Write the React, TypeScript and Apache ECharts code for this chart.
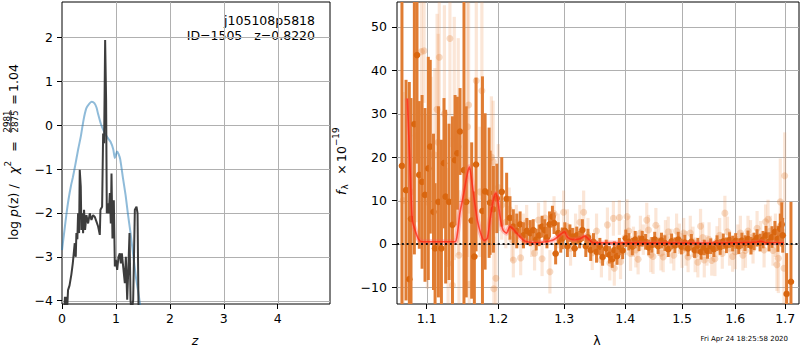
import React, { useEffect, useRef } from 'react';
import * as echarts from 'echarts';

const FONT = 'DejaVu Sans';

// ---------- tick labels ----------
const zTicks = [0, 1, 2, 3, 4];
const logpTicks = [-4, -3, -2, -1, 0, 1, 2];
const lamTicks = [1.1, 1.2, 1.3, 1.4, 1.5, 1.6, 1.7];
const fluxTicks = [-10, 0, 10, 20, 30, 40, 50];

// ---------- left panel: log p(z) (z, value) ----------
const pzCurve: [number, number][] = [
  [0, -2.85], [0.02, -2.65], [0.05, -2.35], [0.08, -2.05], [0.12, -1.7], [0.17, -1.36], [0.2, -1.2],
  [0.24, -0.95], [0.3, -0.55], [0.35, -0.25], [0.4, 0.12], [0.45, 0.38], [0.5, 0.48], [0.55, 0.53],
  [0.6, 0.5], [0.64, 0.4], [0.67, 0.25], [0.72, 0.03], [0.78, -0.15], [0.84, -0.28], [0.9, -0.38],
  [0.95, -0.55], [0.98, -0.75], [1.0, -0.68], [1.02, -0.6], [1.05, -0.66], [1.08, -0.78], [1.13, -1.2],
  [1.18, -1.6], [1.22, -2.0], [1.27, -2.45], [1.32, -2.95], [1.37, -3.45], [1.42, -3.85], [1.45, -4.1],
  [1.48, -4.4],
];

const chi2Curve: [number, number][] = [
  [0.04, -4.3], [0.055, -3.91], [0.065, -4.2], [0.081, -3.91], [0.095, -4.2], [0.112, -3.76],
  [0.14, -3.65], [0.174, -3.4], [0.2, -3.15], [0.236, -2.69], [0.245, -2.85], [0.255, -3.0],
  [0.267, -2.46], [0.285, -2.6], [0.298, -2.01], [0.317, -2.46], [0.329, -1.02], [0.348, -1.4],
  [0.36, -2.39], [0.379, -2.01], [0.391, -2.46], [0.409, -1.93], [0.428, -2.39], [0.453, -2.05],
  [0.484, -2.24], [0.515, -2.01], [0.546, -2.16], [0.577, -2.05], [0.608, -2.09], [0.639, -2.2],
  [0.67, -2.31], [0.701, -2.5], [0.713, -1.93], [0.744, -1.86], [0.763, -0.19], [0.781, -0.415],
  [0.8, 1.94], [0.818, 0.57], [0.831, -2.01], [0.849, -1.78], [0.868, -2.01], [0.887, -1.55],
  [0.905, -2.24], [0.918, -1.1], [0.936, -2.58], [0.961, -1.71], [0.98, -3.22], [0.998, -3.07],
  [1.023, -3.3], [1.048, -3.0], [1.072, -2.92], [1.091, -3.15], [1.11, -2.92], [1.134, -3.22],
  [1.165, -3.6], [1.184, -3.0], [1.209, -3.98], [1.227, -3.38], [1.252, -2.46], [1.271, -3.98],
  [1.289, -4.3], [1.32, -3.98], [1.351, -1.93], [1.382, -1.86], [1.401, -2.01], [1.42, -4.3],
];

// ---------- right panel: spectrum (lambda, flux, err) ----------
const darkPoints: [number, number, number][] = [
  [1.0675, 18, 42], [1.0728, 12.4, 25.4], [1.0771, -8.1, 45.4], [1.0793, 5.8, 27.8], [1.0837, 27.6, 30],
  [1.0872, 43.5, 25], [1.0902, 15.9, 17], [1.0939, 14.3, 20], [1.0978, 11.3, 20], [1.1022, 17.4, 25.7],
  [1.1048, 22.4, 20], [1.1092, 7.4, 18], [1.1113, -1.0, 15], [1.1158, 9.7, 22], [1.1199, -1.0, 25],
  [1.1234, 18.6, 15], [1.1257, 10.9, 20], [1.1303, 9.7, 18], [1.135, 4.4, 25], [1.1386, 19.3, 15],
  [1.1419, 20.9, 13], [1.1455, 25.9, 10], [1.151, 17.0, 40], [1.1542, 9.7, 22], [1.1618, 5.4, 18],
  [1.1656, -2.9, 15], [1.168, 18.3, 20], [1.1771, 7.6, 31], [1.1809, 12.1, 18], [1.1867, 11.8, 15],
  [1.1881, 9.5, 12], [1.1929, 8.0, 10], [1.1978, 10.5, 8], [1.205, 12.0, 8], [1.2122, 10.4, 6],
  [1.2171, 6.0, 5], [1.2221, 4.0, 4], [1.2272, 3.0, 4], [1.2322, 4.5, 3], [1.2372, 2.0, 3],
  [1.2423, 3.0, 3],
  [1.2475, 2.5, 3], [1.252, 3.2, 2.5], [1.2565, 1.0, 2.5], [1.261, 2.0, 2.5], [1.2655, 4.0, 2.5],
  [1.2695, 3.2, 2.5], [1.273, 1.5, 2.5], [1.277, 4.5, 3], [1.2815, 6.3, 2.5], [1.284, 4.8, 2.5],
  [1.2865, -2.2, 2.5], [1.2905, 2.5, 2.5], [1.2945, 0.5, 2.5], [1.297, 1.3, 2.5], [1.301, 3.0, 2],
  [1.305, -0.5, 2.5], [1.309, 2.5, 2], [1.313, 1.7, 2], [1.3165, -1.0, 2], [1.32, 2.0, 2],
  [1.3245, 1.0, 2], [1.329, 3.2, 2.5], [1.3345, -0.5, 2.5], [1.338, 1.5, 2], [1.3425, -1.4, 2.5],
  [1.347, 0.5, 2], [1.352, -1.8, 2.5], [1.3575, -0.6, 2], [1.362, -3.0, 2], [1.368, -1.0, 2],
  [1.3735, -2.5, 2], [1.378, -3.5, 2], [1.3815, -1.4, 2], [1.386, -2.8, 2], [1.39, -0.6, 2],
  [1.3955, -1.5, 2], [1.401, 1.3, 2], [1.406, 0.5, 2], [1.412, -0.6, 2], [1.417, 1.0, 2],
  [1.4235, 0.15, 1.8], [1.429, 1.2, 1.8], [1.435, 0.5, 1.8], [1.4405, -0.8, 1.8], [1.446, -0.2, 1.8],
  [1.451, 1.0, 1.8], [1.457, -0.5, 1.8], [1.463, 0.8, 1.8], [1.469, 0.2, 1.8], [1.475, -1.2, 1.8],
  [1.481, 0.6, 1.8], [1.487, -0.3, 1.8], [1.493, 1.0, 1.8], [1.499, -0.6, 1.8], [1.505, 0.3, 1.8],
  [1.511, -1.0, 1.8], [1.517, 0.5, 1.8], [1.523, -1.4, 1.8], [1.529, -0.4, 1.8], [1.535, -1.8, 1.8],
  [1.541, -0.8, 1.8], [1.547, -1.6, 1.8], [1.553, -0.5, 1.8], [1.559, -1.2, 1.8], [1.565, 0.2, 1.8],
  [1.571, -0.7, 1.8], [1.577, 0.6, 1.8], [1.583, -0.3, 1.8], [1.589, 0.9, 1.8], [1.595, 0.1, 1.8],
  [1.601, 0.7, 1.8], [1.607, -0.5, 1.8], [1.613, 0.8, 1.8], [1.619, 0.2, 1.8], [1.625, 1.1, 2],
  [1.631, -0.4, 2], [1.637, 0.6, 2], [1.643, 1.4, 2], [1.649, 0.3, 2], [1.655, 1.0, 2],
  [1.661, 2.0, 2.2], [1.667, 0.5, 2.2], [1.673, 1.6, 2.5], [1.679, 2.8, 2.5], [1.685, 1.2, 3],
  [1.69, 3.5, 3.5], [1.693, 4.5, 5.1], [1.695, 2.0, 4], [1.703, -11.5, 9.4], [1.712, -8.7, 18.4],
];

const lightPoints: [number, number, number][] = [
  [1.069, 10, 25], [1.079, 12, 15], [1.086, 25, 20], [1.093, 44.3, 15], [1.0965, 44.5, 12],
  [1.101, 9.7, 20], [1.106, 20.5, 18], [1.111, 20.5, 20], [1.114, 31.0, 22], [1.1155, 23.4, 25],
  [1.117, 43.0, 20], [1.124, 30, 25], [1.129, -4.5, 22], [1.1315, 47.3, 25], [1.135, -9.5, 20],
  [1.1375, 24.3, 28], [1.143, 22.4, 25], [1.144, -2.6, 15], [1.156, 27, 30], [1.1575, 32, 25],
  [1.1584, -9.3, 20], [1.1683, 37.6, 20], [1.1735, 12, 15], [1.1763, 35.3, 25], [1.19, 20, 14],
  [1.1925, 19.0, 14], [1.1935, -10.3, 12], [1.1965, -7.9, 14], [1.2, 13, 10], [1.205, 9, 8],
  [1.211, 5, 6], [1.216, 8, 5], [1.22, 1, 5], [1.2221, -3.7, 4], [1.2265, 5, 4], [1.233, -3.2, 4],
  [1.237, 3, 4], [1.242, 5, 4], [1.2495, 1, 4], [1.254, -2.1, 4], [1.26, 5.5, 4], [1.2655, -3.4, 4],
  [1.27, 6, 4], [1.2776, -6.4, 5], [1.284, 7, 4], [1.2905, 3, 4], [1.299, 7.3, 5], [1.305, 4, 4],
  [1.31, -1, 4], [1.318, 3, 4], [1.325, 5, 4], [1.331, 7.3, 5], [1.338, 2, 4], [1.345, -2, 4],
  [1.352, 3, 4], [1.36, -3.7, 4], [1.37, 4.4, 4], [1.374, -4.4, 4], [1.38, 5.9, 4], [1.3815, -5.6, 4],
  [1.39, 6.1, 4], [1.392, -4.1, 4], [1.4, 1.5, 4], [1.403, 6.3, 4], [1.406, 3.0, 3.5], [1.409, -2.2, 4],
  [1.414, 0.5, 3.5], [1.418, -1.4, 4], [1.422, -3.5, 3.5], [1.426, 2.5, 4], [1.431, 1.0, 3.5],
  [1.437, 5.5, 4], [1.44, 3.2, 3.5], [1.444, -2.5, 4], [1.448, -2.9, 4], [1.453, 4.3, 4],
  [1.458, 0.8, 3.5], [1.462, -2.1, 4], [1.466, -3.0, 3.5], [1.47, 1.5, 4], [1.475, 2.8, 3.5],
  [1.48, -0.5, 4], [1.485, -2.6, 3.5], [1.49, 3, 4], [1.495, 1.2, 3.5], [1.5, -1.5, 4], [1.503, 2.5, 3.5],
  [1.507, -1.0, 4], [1.511, -3.0, 3.5], [1.515, 2.5, 4], [1.52, 0.5, 3.5], [1.524, -2.5, 4],
  [1.529, -4.2, 3.5], [1.534, 4.1, 4], [1.538, 1.5, 3.5], [1.541, -3.7, 4], [1.546, -1.5, 3.5],
  [1.55, 1, 4], [1.555, -3.8, 3.5], [1.561, -3.4, 4], [1.565, 0.6, 3.5], [1.57, 2, 4], [1.575, -2.2, 3.5],
  [1.58, 7.1, 4], [1.585, 2.8, 3.5], [1.589, -1.0, 4], [1.595, -2.9, 3.5], [1.6, -1.8, 4], [1.605, 1.0, 3.5],
  [1.61, 2.5, 4], [1.615, -2.6, 3.5], [1.62, -1.5, 4], [1.625, 3.0, 3.5], [1.63, 1.5, 4], [1.635, -1.0, 3.5],
  [1.643, 3.6, 4], [1.65, 1.8, 3.5], [1.657, -1.4, 4], [1.66, 5.1, 4], [1.665, 5.7, 4.5], [1.67, 3.0, 3.5],
  [1.675, -1.5, 3.5], [1.68, 2, 5], [1.683, -4.8, 6], [1.686, -3.3, 8], [1.69, 9.7, 10],
  [1.6975, -5.6, 9], [1.699, 15.7, 10],
];

const modelCurve: [number, number][] = [
  [1.0745, 33.5], [1.078, 17.8], [1.081, 5.5], [1.0846, 3.2], [1.0889, 1.2], [1.0934, 0.5], [1.1, 0.5],
  [1.11, 0.5], [1.12, 0.5], [1.13, 0.5], [1.1388, 0.5], [1.1419, 2.5], [1.1453, 7.1], [1.1503, 11.3],
  [1.1549, 15.5], [1.1585, 17.8], [1.1618, 14.7], [1.1656, 10.1], [1.1699, 5.5], [1.1745, 2.5],
  [1.1793, 0.8], [1.1841, 1.3], [1.1879, 5.5], [1.1927, 10.1], [1.1965, 11.7], [1.1998, 9.4],
  [1.2033, 5.5], [1.207, 3.2], [1.212, 2.5], [1.2171, 4.0], [1.2221, 3.4], [1.2272, 2.5], [1.2347, 1.2],
  [1.2423, 0.5], [1.2574, 0.3], [1.27, 0.5], [1.2826, 0.9], [1.2926, 2.0], [1.3002, 2.8], [1.3055, 1.5],
  [1.3135, 1.0], [1.3251, 1.2], [1.3331, 1.8], [1.3384, 1.2], [1.3464, 0.3], [1.36, 0.25], [1.408, 0.2],
  [1.47, 0.2], [1.527, 0.2], [1.59, 0.25], [1.641, 0.4], [1.6507, 0.6], [1.6604, 0.3], [1.68, 0.3],
  [1.6974, 0.3],
];

// ---------- axis extents ----------
const Z_MIN = 0;
const Z_MAX = 4.97;
const LOGP_MIN = -4.075;
const LOGP_MAX = 2.804;
const LAM_MIN = 1.0611;
const LAM_MAX = 1.7288;
const FLUX_MIN = -13.82;
const FLUX_MAX = 55.72;

const lg = (v: number) => Math.log10(v);
const fmtMinus = (v: number) => (v < 0 ? '\u2212' + Math.abs(v) : String(v));

const GRID_COLOR = '#b0b0b0';

const gridRenderer = (xRef: number, yRef: number) => (params: any, api: any) => {
  const cs = params.coordSys;
  const dir = api.value(0);
  const v = api.value(1);
  if (dir === 0) {
    const px = Math.round(api.coord([v, yRef])[0]) + 0.5;
    return {
      type: 'line',
      shape: { x1: px, y1: cs.y, x2: px, y2: cs.y + cs.height },
      style: { stroke: GRID_COLOR, lineWidth: 1 },
    };
  }
  const py = Math.round(api.coord([xRef, v])[1]) + 0.5;
  return {
    type: 'line',
    shape: { x1: cs.x, y1: py, x2: cs.x + cs.width, y2: py },
    style: { stroke: GRID_COLOR, lineWidth: 1 },
  };
};

const errorBarRenderer = (bar: string, dot: string, w: number, r: number) => (params: any, api: any) => {
  const cs = params.coordSys;
  const x = api.value(0);
  const y = api.value(1);
  const e = api.value(2);
  const c = api.coord([x, y]);
  const t = api.coord([x, y + e])[1];
  const b = api.coord([x, y - e])[1];
  const lo = cs.y;
  const hi = cs.y + cs.height;
  const y1 = Math.max(lo, Math.min(hi, t));
  const y2 = Math.max(lo, Math.min(hi, b));
  const children: any[] = [];
  if (y2 - y1 > 0) {
    children.push({ type: 'rect', shape: { x: c[0] - w / 2, y: y1, width: w, height: y2 - y1 }, style: { fill: bar } });
  }
  if (c[1] > lo - r && c[1] < hi + r) {
    children.push({ type: 'circle', shape: { cx: c[0], cy: c[1], r }, style: { fill: dot } });
  }
  return { type: 'group', children };
};

const txt = (x: number, y: number, text: string, size: number, align: string, extra: any = {}) => ({
  type: 'text',
  x,
  y,
  style: {
    text,
    fontFamily: FONT,
    fontSize: size,
    fill: '#000',
    align,
    textAlign: align,
    verticalAlign: 'middle',
    textVerticalAlign: 'middle',
    ...extra,
  },
});

export default function App() {
  const ref = useRef<HTMLDivElement>(null);

  useEffect(() => {
    document.body.style.margin = '0';
    if (!ref.current) return;
    const chart = echarts.init(ref.current, undefined, { renderer: 'svg' });

    const axisLabelBase = { fontFamily: FONT, fontSize: 12.5, color: '#000' };
    const tickBase = { show: true, length: 5, lineStyle: { color: '#000', width: 1 } };

    const leftGridLines = [
      ...zTicks.filter((v) => v > 0).map((v) => [0, v]),
      ...logpTicks.map((v) => [1, v]),
    ];
    const rightGridLines = [
      ...lamTicks.map((v) => [0, lg(v)]),
      ...fluxTicks.map((v) => [1, v]),
    ];

    const option: any = {
      animation: false,
      backgroundColor: '#fff',
      textStyle: { fontFamily: FONT },
      grid: [
        { left: 62, top: 2, width: 268, height: 302, show: true, borderColor: '#000', borderWidth: 1, backgroundColor: 'transparent' },
        { left: 397, top: 2, width: 402, height: 302, show: true, borderColor: '#000', borderWidth: 1, backgroundColor: 'transparent' },
      ],
      xAxis: [
        {
          gridIndex: 0, type: 'value', min: Z_MIN, max: Z_MAX,
          axisLine: { show: false, onZero: false },
          splitLine: { show: false },
          axisTick: { ...tickBase, customValues: zTicks },
          axisLabel: { ...axisLabelBase, margin: 8, customValues: zTicks, formatter: (v: number) => String(v) },
        },
        {
          gridIndex: 1, type: 'value', min: lg(LAM_MIN), max: lg(LAM_MAX),
          axisLine: { show: false, onZero: false },
          splitLine: { show: false },
          axisTick: { ...tickBase, customValues: lamTicks.map(lg) },
          axisLabel: {
            ...axisLabelBase, margin: 8, customValues: lamTicks.map(lg),
            formatter: (v: number) => Math.pow(10, v).toFixed(1),
          },
        },
      ],
      yAxis: [
        {
          gridIndex: 0, type: 'value', min: LOGP_MIN, max: LOGP_MAX,
          axisLine: { show: false, onZero: false },
          splitLine: { show: false },
          axisTick: { ...tickBase, customValues: logpTicks },
          axisLabel: { ...axisLabelBase, margin: 9, customValues: logpTicks, formatter: fmtMinus },
        },
        {
          gridIndex: 1, type: 'value', min: FLUX_MIN, max: FLUX_MAX,
          axisLine: { show: false, onZero: false },
          splitLine: { show: false },
          axisTick: { ...tickBase, customValues: fluxTicks },
          axisLabel: { ...axisLabelBase, margin: 10, customValues: fluxTicks, formatter: fmtMinus },
        },
      ],
      series: [
        {
          type: 'custom', xAxisIndex: 0, yAxisIndex: 0, z: 0, silent: true,
          renderItem: gridRenderer(1, 0), data: leftGridLines, encode: { x: 0, y: 1 },
        },
        {
          type: 'line', xAxisIndex: 0, yAxisIndex: 0, z: 2, data: pzCurve, showSymbol: false, smooth: 0.2,
          clip: true, lineStyle: { color: '#1f77b4', opacity: 0.5, width: 2 },
        },
        {
          type: 'line', xAxisIndex: 0, yAxisIndex: 0, z: 3, data: chi2Curve, showSymbol: false,
          clip: true, lineStyle: { color: '#333333', opacity: 0.95, width: 2 },
        },
        {
          type: 'custom', xAxisIndex: 1, yAxisIndex: 1, z: 0, silent: true,
          renderItem: gridRenderer(lg(1.3), 0), data: rightGridLines, encode: { x: 0, y: 1 },
        },
        {
          type: 'custom', xAxisIndex: 1, yAxisIndex: 1, z: 1, clip: true,
          renderItem: errorBarRenderer('rgba(235,140,75,0.22)', 'rgba(228,125,50,0.28)', 3.2, 3.5),
          data: lightPoints.map(([l, f, e]) => [lg(l), f, e]), encode: { x: 0, y: 1 },
        },
        {
          type: 'custom', xAxisIndex: 1, yAxisIndex: 1, z: 2, clip: true,
          renderItem: errorBarRenderer('#e07c32', '#d9660f', 3, 3.3),
          data: darkPoints.map(([l, f, e]) => [lg(l), f, e]), encode: { x: 0, y: 1 },
        },
        {
          type: 'line', xAxisIndex: 1, yAxisIndex: 1, z: 3, showSymbol: false, smooth: 0.25, clip: true,
          data: modelCurve.map(([l, f]) => [lg(l), f]),
          lineStyle: { color: 'rgba(255,90,90,0.35)', width: 5 },
        },
        {
          type: 'line', xAxisIndex: 1, yAxisIndex: 1, z: 4, showSymbol: false, smooth: 0.25, clip: true,
          data: modelCurve.map(([l, f]) => [lg(l), f]),
          lineStyle: { color: 'rgba(255,35,15,0.75)', width: 1.6 },
        },
        {
          type: 'line', xAxisIndex: 1, yAxisIndex: 1, z: 5, showSymbol: false, clip: true,
          data: [[lg(LAM_MIN), 0], [lg(LAM_MAX), 0]],
          lineStyle: { color: '#111', width: 2, type: [2, 2.8] },
        },
      ],
      graphic: [
        txt(315, 20, 'j105108p5818', 12.5, 'right'),
        txt(315, 35, 'ID=1505   z=0.8220', 12.5, 'right'),
        txt(195, 340, 'z', 12.5, 'center', { fontStyle: 'italic' }),
        txt(597, 340, '\u03bb', 12.5, 'center'),
        txt(788, 339, 'Fri Apr 24 18:25:58 2020', 7, 'right'),
        {
          type: 'group', x: 13, y: 240, rotation: Math.PI / 2,
          children: [
            txt(0, 0, 'log', 12.5, 'left'),
            txt(23, 0, 'p', 12.5, 'left', { fontStyle: 'italic' }),
            txt(31, 0, '(z)', 12.5, 'left'),
            txt(53.5, 0, '/', 12.5, 'center'),
            txt(66, 0, '\u03c7', 12.5, 'left', { fontStyle: 'italic' }),
            txt(73.5, -5, '2', 8.8, 'left'),
            txt(93.5, 0, '=', 12.5, 'center'),
            txt(118.5, -6, '2981', 8.8, 'center'),
            { type: 'line', shape: { x1: 107, y1: -2.2, x2: 130, y2: -2.2 }, style: { stroke: '#000', lineWidth: 0.8 } },
            txt(118.5, 2, '2875', 8.8, 'center'),
            txt(140.5, 0, '=', 12.5, 'center'),
            txt(148, 0, '1.04', 12.5, 'left'),
          ],
        },
        {
          type: 'group', x: 341, y: 195, rotation: Math.PI / 2,
          children: [
            txt(0, 0, 'f', 12.5, 'left', { fontStyle: 'italic' }),
            txt(5.5, 3.5, '\u03bb', 8.8, 'left'),
            txt(25.5, 0, '\u00d7', 12.5, 'center'),
            txt(33, 0, '10', 12.5, 'left'),
            txt(49, -5, '\u221219', 8.8, 'left'),
          ],
        },
      ],
    };

    chart.setOption(option);
    return () => chart.dispose();
  }, []);

  return <div ref={ref} style={{ position: 'fixed', left: 0, top: 0, width: 800, height: 350 }} />;
}
